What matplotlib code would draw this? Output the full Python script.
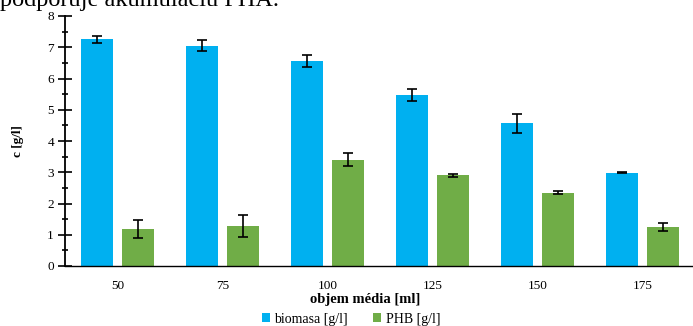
import matplotlib
matplotlib.use("Agg")
import matplotlib.pyplot as plt
import numpy as np
from matplotlib.ticker import MultipleLocator

plt.rcParams['font.family'] = ['Liberation Serif', 'DejaVu Serif']

volumes = ["50", "75", "100", "125", "150", "175"]
biomasa = [7.25, 7.05, 6.55, 5.48, 4.57, 2.99]
biomasa_err = [0.10, 0.17, 0.19, 0.19, 0.30, 0.02]
phb = [1.19, 1.28, 3.40, 2.90, 2.34, 1.26]
phb_err = [0.29, 0.36, 0.21, 0.04, 0.05, 0.13]

blue = "#00B0F0"
green = "#70AD47"

fig = plt.figure(figsize=(6.93, 3.26), dpi=100)
ax = fig.add_axes([65 / 693, 1 - 266 / 326, 630 / 693, 250 / 326])

x = np.arange(len(volumes))
w = 0.31
off = 0.195
err_kw = dict(ecolor="black", capsize=3.5, elinewidth=1.2, capthick=1.2)
ax.bar(x - off, biomasa, w, yerr=biomasa_err, color=blue, label="biomasa [g/l]",
       error_kw=err_kw, zorder=2)
ax.bar(x + off, phb, w, yerr=phb_err, color=green, label="PHB [g/l]",
       error_kw=err_kw, zorder=2)

ax.set_xlim(-0.5, len(volumes) - 0.5)
ax.set_ylim(0, 8)
ax.set_xticks(x)
ax.set_xticklabels(volumes, fontsize=9.5)
ax.tick_params(axis="x", length=0, pad=10)
ax.yaxis.set_major_locator(MultipleLocator(1))
ax.yaxis.set_minor_locator(MultipleLocator(0.5))
ax.tick_params(axis="y", which="major", direction="inout", length=10, width=1.2,
               labelsize=9.5, pad=3)
ax.tick_params(axis="y", which="minor", direction="inout", length=5, width=1.2)
for s in ("top", "right"):
    ax.spines[s].set_visible(False)
ax.spines["left"].set_linewidth(1.3)
ax.spines["bottom"].set_linewidth(1.0)

ax.set_ylabel("c [g/l]", fontsize=9.5, fontweight="bold", labelpad=17)
fig.text(365 / 693, 1 - 299 / 326, "objem média [ml]", fontsize=10.5,
         fontweight="bold", ha="center", va="center")

handles, labels = ax.get_legend_handles_labels()
fig.legend(handles, labels, loc="center", bbox_to_anchor=(351 / 693, 1 - 319 / 326),
           ncol=2, frameon=False, fontsize=10, handlelength=0.6, handleheight=0.6,
           handletextpad=0.3, columnspacing=1.8, borderpad=0)

# running text of the page above the chart
fig.text(0.0, 1 - 6 / 326, "podporuje akumuláciu PHA.", fontsize=17.5,
         ha="left", va="baseline")

fig.savefig("out.png", dpi=100)
